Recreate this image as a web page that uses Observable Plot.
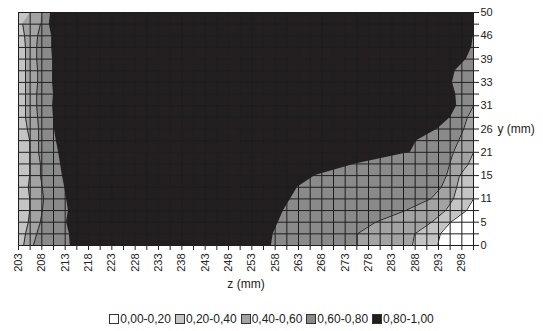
<!DOCTYPE html>
<html><head><meta charset="utf-8">
<script src="https://cdn.jsdelivr.net/npm/d3@7"></script>
<script src="https://cdn.jsdelivr.net/npm/@observablehq/plot@0.6"></script>
<style>
body{margin:0;background:#fff;font-family:"Liberation Sans",Arial,sans-serif;}
#legend{width:543px;height:31px;box-sizing:border-box;padding-top:12px;text-align:center;font-size:12px;line-height:14px;color:#222;padding-left:0px;}
#legend span.item{display:inline-block;margin:0 2px;}
#legend span.sw{display:inline-block;width:8px;height:8px;border:1px solid #333;margin-right:1px;vertical-align:-1px;}
</style></head><body><div id="chart"></div><div id="legend"></div><script>
// z categories (mm) – grid columns
const zCategories = [203,205.5,208,210.5,213,215.5,218,220.5,223,225.5,228,230.5,233,235.5,238,240.5,243,245.5,248,250.5,253,255.5,258,260.5,263,265.5,268,270.5,273,275.5,278,280.5,283,285.5,288,290.5,293,295.5,298,300.5];
const zTickLabels = [203,208,213,218,223,228,233,238,243,248,253,258,263,268,273,278,283,288,293,298];
// y categories (row index, bottom to top) and their tick labels
const yRows = [0,1,2,3,4,5,6,7,8,9,10,11,12,13,14,15,16,17,18,19,20];
const yTickLabels = ["0","5","11","15","21","26","31","33","39","46","50"];
const zTitle = "z (mm)";
const yTitle = "y (mm)";
const bands = ["0,00-0,20","0,20-0,40","0,40-0,60","0,60-0,80","0,80-1,00"];
const bandColors = ["#ffffff","#c4c4c4","#a3a3a3","#8a8a8a","#231f20"];

// contour boundaries per row (z position where the value crosses each level)
const left04  = [204.1,204.5,205.1,205.4,205.4,205.1,205.4,205.4,205.4,205.4,204.9,204.5,204.5,204.5,204.5,204.5,204.5,204.5,204.3,203.9,205.6];
const left06  = [206.2,206.9,207.7,208.1,208.4,208.1,207.7,207.7,207.3,207.3,207.3,207.1,206.9,206.9,207.1,207.1,206.9,206.9,207.1,207.7,208.1];
const left08  = [214.1,213.9,213.3,213.7,213.3,212.9,212.4,212.0,211.6,211.1,210.7,210.5,210.3,210.5,210.3,210.3,210.3,210.1,210.1,209.6,209.9];
const right08 = [257.2,257.6,258.7,259.8,261.3,262.8,266.6,275.2,287.0,288.3,292.8,295.6,296.9,296.7,296.0,296.6,299.0,300.1,300.5,300.5,300.5];
const right06 = [275.6,275.6,279.5,285.9,291.3,293.6,294.7,295.4,296.2,297.3,298.4,299.2,300.5,300.5,300.5,300.5,300.5,300.5,300.5,300.5,300.5];
const right04 = [287.4,287.9,291.5,294.5,296.2,296.9,297.5,299.4,300.5,300.5,300.5,300.5,300.5,300.5,300.5,300.5,300.5,300.5,300.5,300.5,300.5];
const right02 = [292.8,293.4,295.6,299.0,300.5,300.5,300.5,300.5,300.5,300.5,300.5,300.5,300.5,300.5,300.5,300.5,300.5,300.5,300.5,300.5,300.5];

const zMin = zCategories[0], zMax = zCategories[zCategories.length-1];
const rows = yRows.map((r,i)=>({row:r,l04:left04[i],l06:left06[i],l08:left08[i],r08:right08[i],r06:right06[i],r04:right04[i],r02:right02[i]}));
function rightLine(key){
  const arr = rows.map(d=>d[key]);
  return rows.filter((d,i)=> arr[i]<zMax || (i>0 && arr[i-1]<zMax));
}
const lineColor = "#2a2a2a";
const chart = Plot.plot({
  width:543, height:300,
  marginLeft:18, marginRight:70, marginTop:12, marginBottom:55,
  style:{fontFamily:"'Liberation Sans',Arial,sans-serif",fontSize:"11px",color:"#222"},
  x:{domain:[zMin,zMax]},
  y:{domain:[yRows[0],yRows[yRows.length-1]]},
  marks:[
    Plot.rect([0],{x1:zMin,x2:zMax,y1:yRows[0],y2:yRows[yRows.length-1],fill:bandColors[0]}),
    Plot.areaX(rows,{y:"row",x1:()=>zMin,x2:"r02",fill:bandColors[1],curve:"linear"}),
    Plot.areaX(rows,{y:"row",x1:"l04",x2:"r04",fill:bandColors[2],curve:"linear"}),
    Plot.areaX(rows,{y:"row",x1:"l06",x2:"r06",fill:bandColors[3],curve:"linear"}),
    Plot.areaX(rows,{y:"row",x1:"l08",x2:"r08",fill:bandColors[4],curve:"linear"}),
    Plot.ruleX(zCategories,{stroke:"#1e1e1e",strokeWidth:1}),
    Plot.ruleY(yRows,{stroke:"#1e1e1e",strokeWidth:1}),
    Plot.lineX(rows.slice(0,20),{x:"l04",y:"row",stroke:lineColor,strokeWidth:1}),
    Plot.lineX(rows.slice(0,20),{x:"l06",y:"row",stroke:lineColor,strokeWidth:1}),
    Plot.lineX(rightLine("r06"),{x:"r06",y:"row",stroke:lineColor,strokeWidth:1}),
    Plot.lineX(rightLine("r04"),{x:"r04",y:"row",stroke:lineColor,strokeWidth:1}),
    Plot.lineX(rightLine("r02"),{x:"r02",y:"row",stroke:lineColor,strokeWidth:1}),
    Plot.axisX({ticks:zCategories,tickFormat:d=>zTickLabels.includes(d)?String(d):"",tickRotate:-90,tickSize:5,tickPadding:3,label:null,fontSize:11}),
    Plot.axisY({anchor:"right",ticks:yRows,tickFormat:i=>i%2===0?yTickLabels[i/2]:"",tickSize:5,tickPadding:2,label:null,fontSize:11}),
    Plot.text([zTitle],{frameAnchor:"bottom",dy:39,lineAnchor:"middle",fontSize:12,fill:"#222"}),
    Plot.text([yTitle],{frameAnchor:"right",dx:24,textAnchor:"start",lineAnchor:"middle",fontSize:12,fill:"#222"})
  ]
});
document.getElementById("chart").appendChild(chart);
const lg = document.getElementById("legend");
bands.forEach((b,i)=>{
  const s=document.createElement("span");s.className="item";
  s.innerHTML=`<span class="sw" style="background:${bandColors[i]}"></span>${b}`;
  lg.appendChild(s);
});
</script></body></html>
